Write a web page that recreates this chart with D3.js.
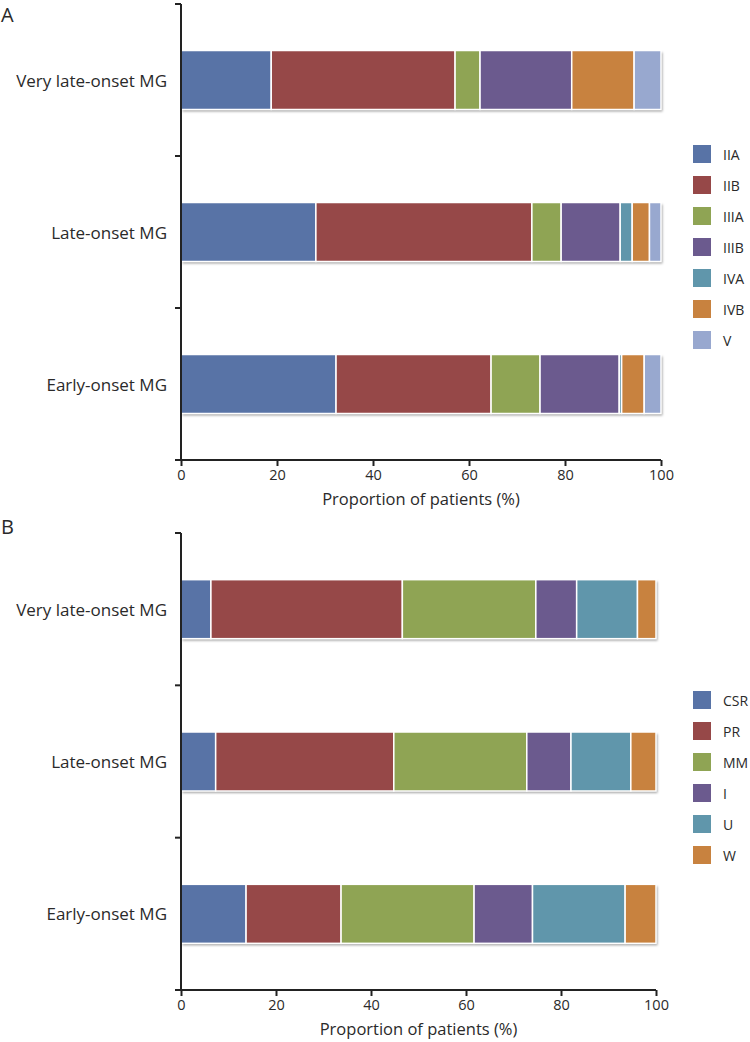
<!DOCTYPE html>
<html><head><meta charset="utf-8">
<script src="https://cdn.jsdelivr.net/npm/d3@7"></script>
<style>body{margin:0;background:#fff}text{font-family:"Open Sans",sans-serif;fill:#2a2a2a}</style>
</head><body><svg id="c" width="750" height="1042"></svg>
<script>
const categories = ["Very late-onset MG", "Late-onset MG", "Early-onset MG"];
const xTicks = [0, 20, 40, 60, 80, 100];

const keysA = ["IIA", "IIB", "IIIA", "IIIB", "IVA", "IVB", "V"];
const colorsA = ["#5873a6", "#964848", "#8fa454", "#6b5a8e", "#6096ab", "#c8823f", "#98a8cf"];
const veryLateA = [18.8, 38.3, 5.2, 19.1, 0, 13.0, 5.6];
const lateA = [28.1, 45.0, 6.1, 12.3, 2.5, 3.6, 2.4];
const earlyA = [32.3, 32.3, 10.2, 16.5, 0.5, 4.7, 3.5];

const keysB = ["CSR", "PR", "MM", "I", "U", "W"];
const colorsB = ["#5873a6", "#964848", "#8fa454", "#6b5a8e", "#6096ab", "#c8823f"];
const veryLateB = [6.3, 40.3, 28.1, 8.6, 12.8, 3.9];
const lateB = [7.3, 37.5, 28.0, 9.3, 12.6, 5.3];
const earlyB = [13.7, 20.0, 28.0, 12.3, 19.5, 6.5];

const svg = d3.select("#c");
const defs = svg.append("defs");
const f = defs.append("filter").attr("id", "sh").attr("x", "-5%").attr("y", "-10%").attr("width", "110%").attr("height", "130%");
f.append("feDropShadow").attr("dx", 1.5).attr("dy", 2).attr("stdDeviation", 1).attr("flood-color", "#000").attr("flood-opacity", 0.35);

function panel(opts) {
  const {label, labelY, keys, colors, rows, top, bottom, x0, x1, legendY} = opts;
  const g = svg.append("g");
  const x = d3.scaleLinear().domain([0, 100]).range([x0, x1]);
  const y = d3.scaleBand().domain(categories).range([top, bottom]).paddingInner(0).paddingOuter(0);
  const barH = 59;
  const color = d3.scaleOrdinal().domain(keys).range(colors);

  const data = categories.map((c, i) => {
    const o = {cat: c};
    keys.forEach((k, j) => o[k] = rows[i][j]);
    return o;
  });
  const series = d3.stack().keys(keys)(data);

  g.append("g").selectAll("rect").data(data).join("rect")
    .attr("x", d => x(0)).attr("width", x(100) - x(0))
    .attr("y", d => y(d.cat) + (y.bandwidth() - barH) / 2).attr("height", barH)
    .attr("fill", "#fff").attr("filter", "url(#sh)");

  g.append("g").selectAll("g").data(series).join("g")
    .attr("fill", d => color(d.key))
    .selectAll("rect").data(d => d.map(v => Object.assign(v, {key: d.key}))).join("rect")
    .attr("x", d => x(d[0]))
    .attr("width", d => Math.max(0, x(d[1]) - x(d[0])))
    .attr("y", d => y(d.data.cat) + (y.bandwidth() - barH) / 2)
    .attr("height", barH)
    .attr("stroke", "#fff").attr("stroke-width", 1.5);

  const ticksY = [top, ...categories.slice(1).map(c => y(c))];
  g.append("line").attr("x1", x0).attr("x2", x0).attr("y1", top).attr("y2", bottom)
    .attr("stroke", "#222").attr("stroke-width", 2);
  g.selectAll(".yt").data(ticksY).join("line").attr("class", "yt")
    .attr("x1", x0 - 6).attr("x2", x0).attr("y1", d => d).attr("y2", d => d)
    .attr("stroke", "#222").attr("stroke-width", 2);
  g.selectAll(".yl").data(categories).join("text").attr("class", "yl")
    .attr("x", x0 - 14).attr("y", d => y(d) + y.bandwidth() / 2)
    .attr("text-anchor", "end").attr("dominant-baseline", "central")
    .attr("font-size", 17).text(d => d);

  const xa = g.append("g").attr("transform", `translate(0,${bottom})`)
    .call(d3.axisBottom(x).tickValues(xTicks).tickSize(6).tickSizeOuter(0).tickPadding(4));
  xa.select(".domain").attr("stroke", "#222").attr("stroke-width", 2).attr("d", `M${x0 - 6},0H${x1}`);
  xa.selectAll(".tick line").attr("stroke", "#222").attr("stroke-width", 2);
  xa.selectAll(".tick text").attr("font-size", 14.5).attr("font-family", "Open Sans").attr("fill", "#2a2a2a");
  g.append("text").attr("x", (x0 + x1) / 2).attr("y", bottom + 45)
    .attr("text-anchor", "middle").attr("font-size", 16.5).text("Proportion of patients (%)");

  g.append("text").attr("x", 1).attr("y", labelY).attr("dominant-baseline", "central")
    .attr("font-size", 20).text(label);

  const lg = g.append("g").attr("transform", `translate(693,${legendY})`);
  const li = lg.selectAll("g").data(keys).join("g").attr("transform", (d, i) => `translate(0,${i * 31})`);
  li.append("rect").attr("x", 0).attr("y", -9).attr("width", 18).attr("height", 18).attr("fill", d => color(d));
  li.append("text").attr("x", 30).attr("y", 0).attr("dominant-baseline", "central").attr("font-size", 14).text(d => d);
}

panel({label: "A", labelY: 14, keys: keysA, colors: colorsA, rows: [veryLateA, lateA, earlyA],
  top: 4, bottom: 460, x0: 181, x1: 661, legendY: 154});
panel({label: "B", labelY: 526, keys: keysB, colors: colorsB, rows: [veryLateB, lateB, earlyB],
  top: 533, bottom: 990, x0: 181, x1: 656, legendY: 700});
</script></body></html>
